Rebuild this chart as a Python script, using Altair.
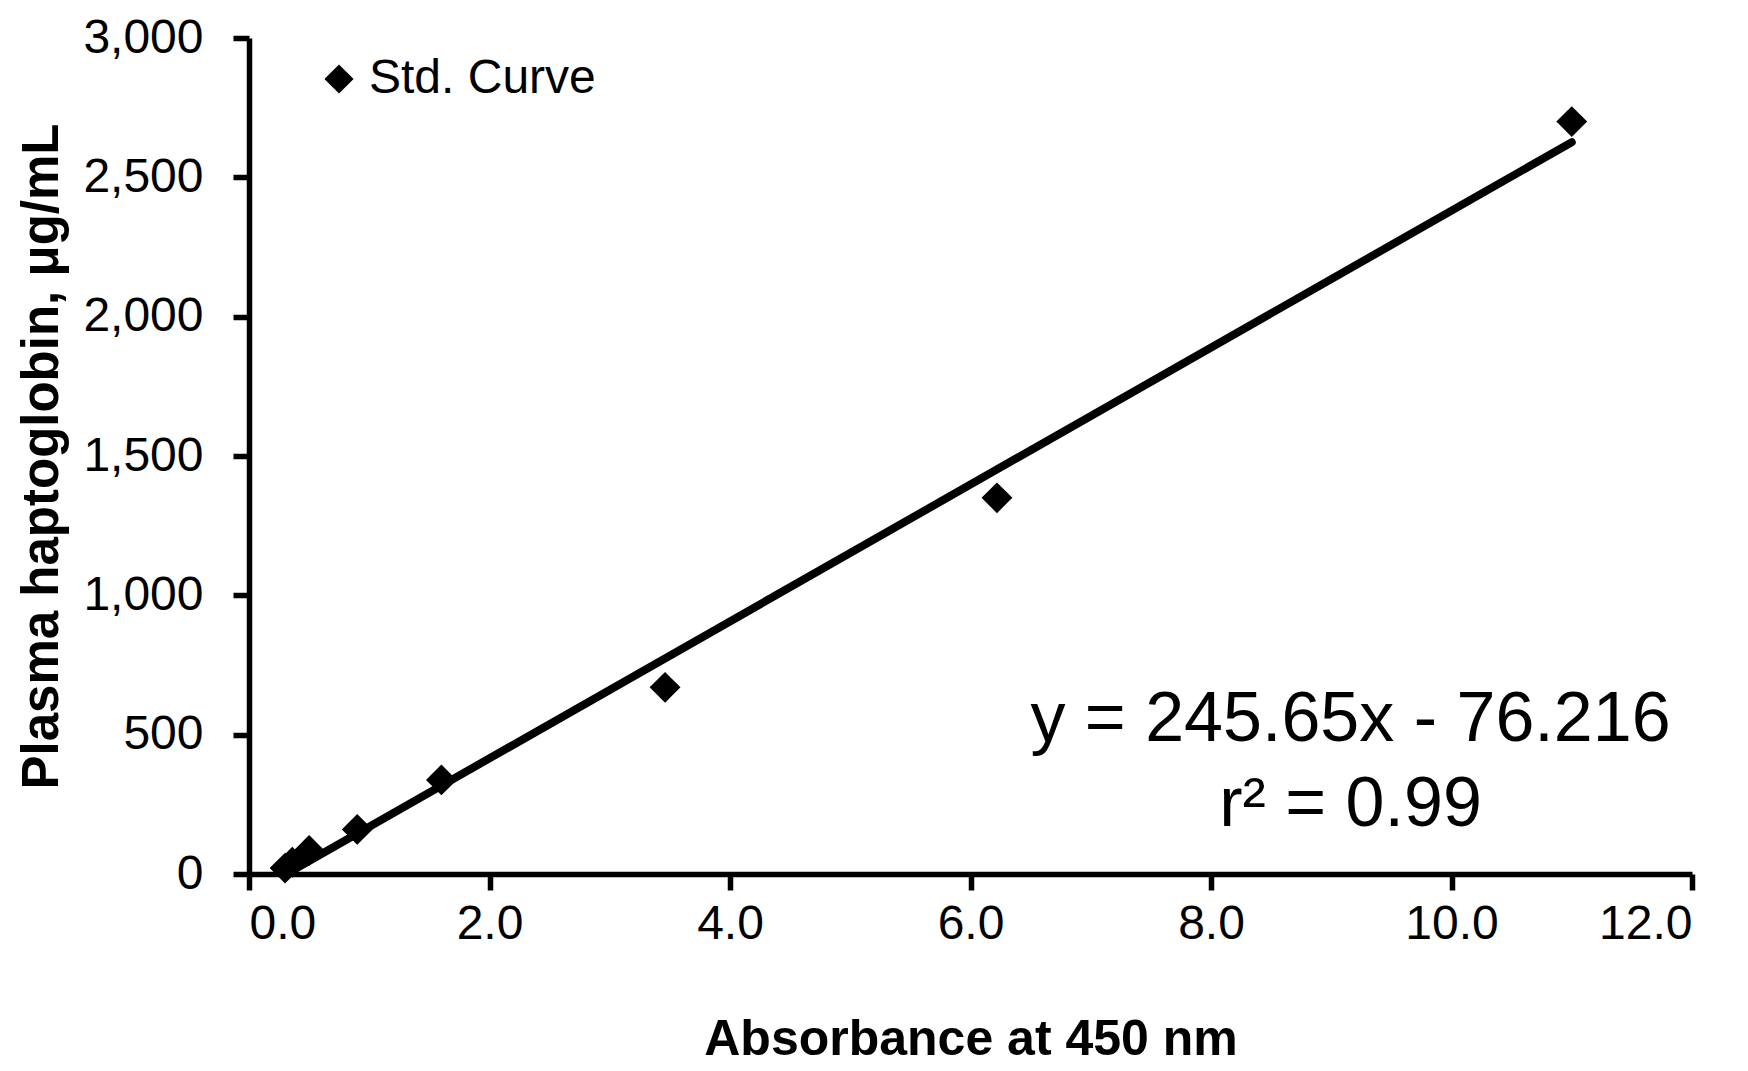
import altair as alt
import pandas as pd

# Standard curve data
absorbance = [0.30, 0.36, 0.50, 0.90, 1.60, 3.46, 6.22, 11.00]
haptoglobin = [21.1, 42.2, 84.4, 160.0, 337.5, 670.0, 1350.0, 2700.0]
series_name = ["Std. Curve"] * len(absorbance)

# Linear trend line end points
trend_x = [0.31, 11.0]
trend_y = [0.0, 2626.0]

# Equation annotation
eq_text = ["y = 245.65x - 76.216", "r\u00b2 = 0.99"]
eq_x = [9.16, 9.16]
eq_y = [477.0, 172.0]

x_ticks = [0, 2, 4, 6, 8, 10, 12]
y_ticks = [0, 500, 1000, 1500, 2000, 2500, 3000]

FONT = "Liberation Sans"

pts = pd.DataFrame({"x": absorbance, "y": haptoglobin, "s": series_name})
trend = pd.DataFrame({"x": trend_x, "y": trend_y})
eq = pd.DataFrame({"x": eq_x, "y": eq_y, "t": eq_text})

x_scale = alt.Scale(domain=[0, 12], nice=False, zero=False)
y_scale = alt.Scale(domain=[0, 3000], nice=False)

x_axis = alt.Axis(
    values=x_ticks, format=".1f", title="Absorbance at 450 nm",
    labelFontSize=48, titleFontSize=50, titleFontWeight="bold",
    labelPadding=10, titlePadding=66, tickSize=16,
)
y_axis = alt.Axis(
    values=y_ticks, format=",d", title="Plasma haptoglobin,  \u03bcg/mL",
    labelFontSize=48, titleFontSize=51, titleFontWeight="bold",
    labelPadding=30, titlePadding=14, tickSize=16,
)

line = alt.Chart(trend).mark_line(
    color="black", strokeWidth=8, strokeCap="round"
).encode(
    x=alt.X("x:Q", scale=x_scale, axis=x_axis),
    y=alt.Y("y:Q", scale=y_scale, axis=y_axis),
)

points = alt.Chart(pts).mark_point(
    shape="diamond", filled=True, size=950, opacity=1
).encode(
    x=alt.X("x:Q", scale=x_scale),
    y=alt.Y("y:Q", scale=y_scale),
    color=alt.Color(
        "s:N",
        scale=alt.Scale(domain=["Std. Curve"], range=["black"]),
        legend=alt.Legend(
            title=None, orient="none", legendX=66, legendY=17,
            labelFontSize=48, labelFont=FONT, labelColor="black",
            labelLimit=0,
            symbolType="diamond", symbolSize=850, symbolStrokeWidth=0,
            symbolFillColor="black", labelOffset=6,
        ),
    ),
)

text = alt.Chart(eq).mark_text(
    fontSize=70, font=FONT, color="black", align="center", baseline="alphabetic"
).encode(
    x=alt.X("x:Q", scale=x_scale),
    y=alt.Y("y:Q", scale=y_scale),
    text="t:N",
)

chart = (
    alt.layer(line, points, text)
    .properties(
        width=1443, height=836,
        autosize=alt.AutoSizeParams(type="none"),
        padding={"left": 241, "top": 30, "right": 40, "bottom": 192},
    )
    .configure(font=FONT)
    .configure_view(strokeWidth=0)
    .configure_axis(
        grid=False, domainColor="black", domainWidth=5.5, tickColor="black",
        tickWidth=5.5, labelColor="black", titleColor="black",
        labelFont=FONT, titleFont=FONT,
    )
)

chart.save("out.html", embed_options={"renderer": "svg", "actions": False})
